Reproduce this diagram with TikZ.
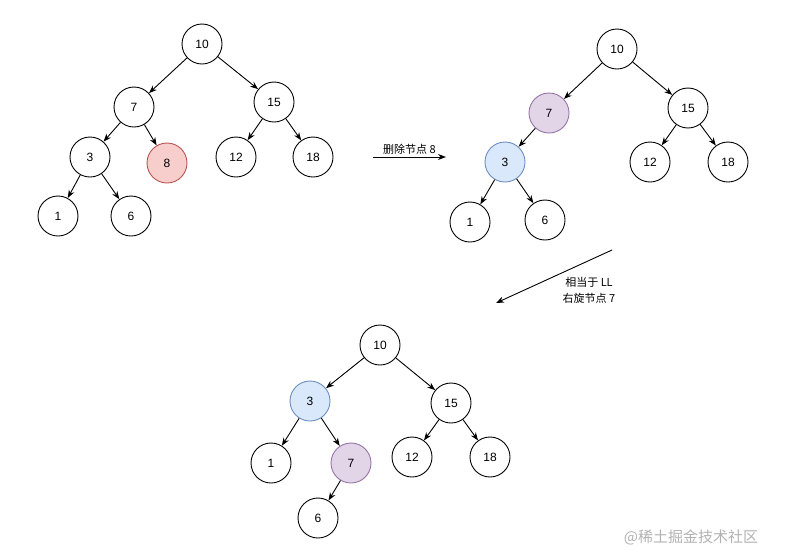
\documentclass[tikz,border=0pt]{standalone}
\usepackage{fontspec}
\setmainfont{Liberation Sans}
\newfontfamily\cjk{Noto Sans CJK SC}
\usetikzlibrary{arrows.meta}
\definecolor{delfill}{HTML}{F8CECC}
\definecolor{deldraw}{HTML}{B85450}
\definecolor{pivotfill}{HTML}{E1D5E7}
\definecolor{pivotdraw}{HTML}{9673A6}
\definecolor{childfill}{HTML}{DAE8FC}
\definecolor{childdraw}{HTML}{6C8EBF}
\tikzstyle{treenode} = [
  circle,
  minimum size=40pt,
  inner sep=0,
  text centered,
  draw=black,
  line width=0.9pt,
  font=\fontsize{12}{14}\selectfont,
  fill=white
]
\tikzstyle{deleted} = [
  treenode,
  draw=deldraw,
  fill=delfill
]
\tikzstyle{pivot} = [
  treenode,
  draw=pivotdraw,
  fill=pivotfill
]
\tikzstyle{child} = [
  treenode,
  draw=childdraw,
  fill=childfill
]
\tikzstyle{arrow} = [
  line width=0.9pt,
  -{Stealth[length=8pt,width=6pt]}
]
\tikzstyle{steplabel} = [
  font=\cjk\fontsize{11}{16}\selectfont,
  align=center
]

\begin{document}
\begin{tikzpicture}[x=1pt,y=-1pt]
  \useasboundingbox (0,0) rectangle (794,558);

  % before deleting
  \node [treenode] (a10) at (202,44) {10};
  \node [treenode] (a7) at (134,107) {7};
  \node [treenode] (a15) at (274,102) {15};
  \node [treenode] (a3) at (90,157) {3};
  \node [deleted] (a8) at (167,163) {8};
  \node [treenode] (a12) at (236,157) {12};
  \node [treenode] (a18) at (313,157) {18};
  \node [treenode] (a1) at (58,216) {1};
  \node [treenode] (a6) at (131,216) {6};

  \draw [arrow] (a10) -- (a7);
  \draw [arrow] (a10) -- (a15);
  \draw [arrow] (a7) -- (a3);
  \draw [arrow] (a7) -- (a8);
  \draw [arrow] (a15) -- (a12);
  \draw [arrow] (a15) -- (a18);
  \draw [arrow] (a3) -- (a1);
  \draw [arrow] (a3) -- (a6);

  % after deleting
  \node [treenode] (b10) at (617,49) {10};
  \node [pivot] (b7) at (549,113) {7};
  \node [treenode] (b15) at (688,108) {15};
  \node [child] (b3) at (505,162) {3};
  \node [treenode] (b12) at (650,162) {12};
  \node [treenode] (b18) at (728,162) {18};
  \node [treenode] (b1) at (470,222) {1};
  \node [treenode] (b6) at (545,220) {6};

  \draw [arrow] (b10) -- (b7);
  \draw [arrow] (b10) -- (b15);
  \draw [arrow] (b7) -- (b3);
  \draw [arrow] (b15) -- (b12);
  \draw [arrow] (b15) -- (b18);
  \draw [arrow] (b3) -- (b1);
  \draw [arrow] (b3) -- (b6);

  % after rotating
  \node [treenode] (c10) at (380,345) {10};
  \node [child] (c3) at (310,401) {3};
  \node [treenode] (c15) at (451,403) {15};
  \node [treenode] (c1) at (271,463) {1};
  \node [pivot] (c7) at (351,463) {7};
  \node [treenode] (c12) at (412,457) {12};
  \node [treenode] (c18) at (490,457) {18};
  \node [treenode] (c6) at (318,518) {6};

  \draw [arrow] (c10) -- (c3);
  \draw [arrow] (c10) -- (c15);
  \draw [arrow] (c3) -- (c1);
  \draw [arrow] (c3) -- (c7);
  \draw [arrow] (c15) -- (c12);
  \draw [arrow] (c15) -- (c18);
  \draw [arrow] (c7) -- (c6);

  % steps
  \coordinate (delete start) at (373,157);
  \coordinate (delete end) at (446,157);
  \draw [arrow] (delete start) -- node [steplabel, above, yshift=-1pt] {删除节点 8} (delete end);
  \coordinate (rotate start) at (612,250);
  \coordinate (rotate end) at (496,303);
  \draw [arrow] (rotate start) -- (rotate end);
  \node [steplabel] (rotate label) at (589,290) {相当于 LL\\右旋节点 7};

  \node [font=\cjk\fontsize{15}{18}\selectfont, text=black!30] (mark) at (691,537) {@稀土掘金技术社区};
\end{tikzpicture}
\end{document}
